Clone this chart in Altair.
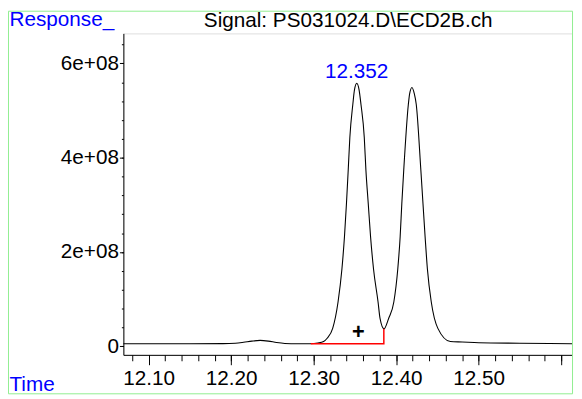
import altair as alt
import pandas as pd

FONT = "Liberation Sans"
FS = 21

# ---- chromatogram trace (time in min, response in counts) ----
times = [12.0693, 12.10, 12.15, 12.19, 12.205, 12.215, 12.225, 12.235, 12.245, 12.255,
         12.265, 12.28, 12.295, 12.305, 12.312, 12.3163, 12.323, 12.3295, 12.3342, 12.3373,
         12.3397, 12.3418, 12.3438, 12.3474, 12.3494, 12.3522, 12.355, 12.3573, 12.3613, 12.3633,
         12.3661, 12.3689, 12.3725, 12.378, 12.3804, 12.3852, 12.3908, 12.3971, 12.4019, 12.4048,
         12.4068, 12.4091, 12.4147, 12.4163, 12.4191, 12.4219, 12.4243, 12.4299, 12.435, 12.4378,
         12.4425, 12.4505, 12.4657, 12.48, 12.50, 12.55, 12.6131]
response = [5.5e6, 5.5e6, 5.5e6, 5.6e6, 6.5e6, 8.5e6, 11e6, 12.5e6, 11e6, 8e6,
            6e6, 5.2e6, 5.5e6, 7e6, 10e6, 17e6, 38e6, 94e6, 164e6, 233e6,
            303e6, 373e6, 443e6, 513e6, 544e6, 558e6, 544e6, 513e6, 443e6, 373e6,
            303e6, 233e6, 164e6, 94e6, 59e6, 37e6, 59e6, 94e6, 164e6, 233e6,
            303e6, 373e6, 513e6, 536e6, 549e6, 536e6, 513e6, 373e6, 233e6, 164e6,
            94e6, 38e6, 10e6, 9e6, 7.5e6, 6.5e6, 5.5e6]

# ---- integration baseline (red) ----
base_t = [12.2964, 12.385, 12.385]
base_v = [5.5e6, 5.5e6, 37e6]
base_order = [0, 1, 2]

# ---- annotations ----
peak_t = [12.352]
peak_v = [5.70e8]
peak_text = ["12.352"]
mark_t = [12.3541]
mark_v = [0.30e8]
mark_text = ["+"]
title_text = "Signal: PS031024.D\\ECD2B.ch"

# ---- axes ----
x_domain = [12.0693, 12.6131]
y_domain = [-0.182e8, 6.638e8]
x_major = [12.10, 12.20, 12.30, 12.40, 12.50, 12.60]
x_minor = [12.08, 12.10, 12.12, 12.14, 12.16, 12.18, 12.20, 12.22, 12.24, 12.26, 12.28,
           12.30, 12.32, 12.34, 12.36, 12.38, 12.40, 12.42, 12.44, 12.46, 12.48, 12.50,
           12.52, 12.54, 12.56, 12.58, 12.60]
y_major = [0, 2e8, 4e8, 6e8]
y_minor = [0, 0.4e8, 0.8e8, 1.2e8, 1.6e8, 2.0e8, 2.4e8, 2.8e8, 3.2e8, 3.6e8, 4.0e8,
           4.4e8, 4.8e8, 5.2e8, 5.6e8, 6.0e8, 6.4e8]

trace = pd.DataFrame({"t": times, "v": response})
base = pd.DataFrame({"t": base_t, "v": base_v, "o": base_order})
peak = pd.DataFrame({"t": peak_t, "v": peak_v, "s": peak_text})
mark = pd.DataFrame({"t": mark_t, "v": mark_v, "s": mark_text})

xs = alt.Scale(domain=x_domain, nice=False, zero=False)
ys = alt.Scale(domain=y_domain, nice=False, zero=False)

W, H = 455, 326

frame = alt.Chart(alt.Data(values=[{}])).mark_rect(
    fillOpacity=0, stroke="#90ee90", strokeWidth=1
).encode(x=alt.value(-116.5), x2=alt.value(455.5), y=alt.value(-22.5), y2=alt.value(365.5))

title = alt.Chart(alt.Data(values=[{"s": title_text}])).mark_text(
    font=FONT, fontSize=FS, color="black", align="center", baseline="alphabetic"
).encode(x=alt.value(228), y=alt.value(-6), text="s:N")

line = alt.Chart(trace).mark_line(color="black", strokeWidth=1.1, interpolate="monotone").encode(
    x=alt.X("t:Q", scale=xs, axis=alt.Axis(
        orient="bottom", values=x_major, tickSize=10, tickColor="black", domainColor="black",
        labelExpr="datum.value > 12.55 ? '' : format(datum.value, '.2f')",
        labelFont=FONT, labelFontSize=FS, labelColor="black", labelPadding=3,
        grid=False, title="Time", titleFont=FONT, titleFontSize=FS, titleColor="blue",
        titleFontWeight="normal", titleX=-116, titleY=30, titleAlign="left",
        titleBaseline="middle", titleAnchor="start")),
    y=alt.Y("v:Q", scale=ys, axis=alt.Axis(
        orient="left", values=y_major, tickSize=4, tickColor="black", domainColor="black",
        labelExpr="datum.value == 0 ? '0' : format(datum.value / 1e8, 'd') + 'e+08'",
        labelFont=FONT, labelFontSize=FS, labelColor="black", labelPadding=1,
        grid=False, title="Response_", titleFont=FONT, titleFontSize=FS, titleColor="blue",
        titleFontWeight="normal", titleAngle=0, titleX=-116, titleY=-8, titleAlign="left",
        titleBaseline="alphabetic", titleAnchor="start")),
)

baseline = alt.Chart(base).mark_line(color="red", strokeWidth=1.5).encode(
    x=alt.X("t:Q", scale=xs, axis=alt.Axis(
        orient="bottom", values=x_minor, tickSize=6, tickColor="black", labels=False,
        domain=False, grid=False, title=None)),
    y=alt.Y("v:Q", scale=ys, axis=alt.Axis(
        orient="left", values=y_minor, tickSize=2, tickColor="black", labels=False,
        domain=False, grid=False, title=None)),
    order="o:Q",
)

peak_lbl = alt.Chart(peak).mark_text(
    font=FONT, fontSize=FS, color="blue", align="center", baseline="alphabetic"
).encode(x=alt.X("t:Q", scale=xs, axis=None), y=alt.Y("v:Q", scale=ys, axis=None), text="s:N")

plus = alt.Chart(mark).mark_text(
    font=FONT, fontSize=22, color="black", fontWeight="bold", align="center", baseline="middle"
).encode(x=alt.X("t:Q", scale=xs, axis=None), y=alt.Y("v:Q", scale=ys, axis=None), text="s:N")

chart = alt.layer(frame, title, line, baseline, peak_lbl, plus).resolve_axis(
    x="independent", y="independent"
).properties(
    width=W, height=H,
    autosize=alt.AutoSizeParams(type="none"),
    padding={"left": 117, "top": 23, "right": 2, "bottom": 41},
).configure_view(stroke=None).configure(background="white")

chart.save("out.html", embed_options={"renderer": "svg", "actions": False})
